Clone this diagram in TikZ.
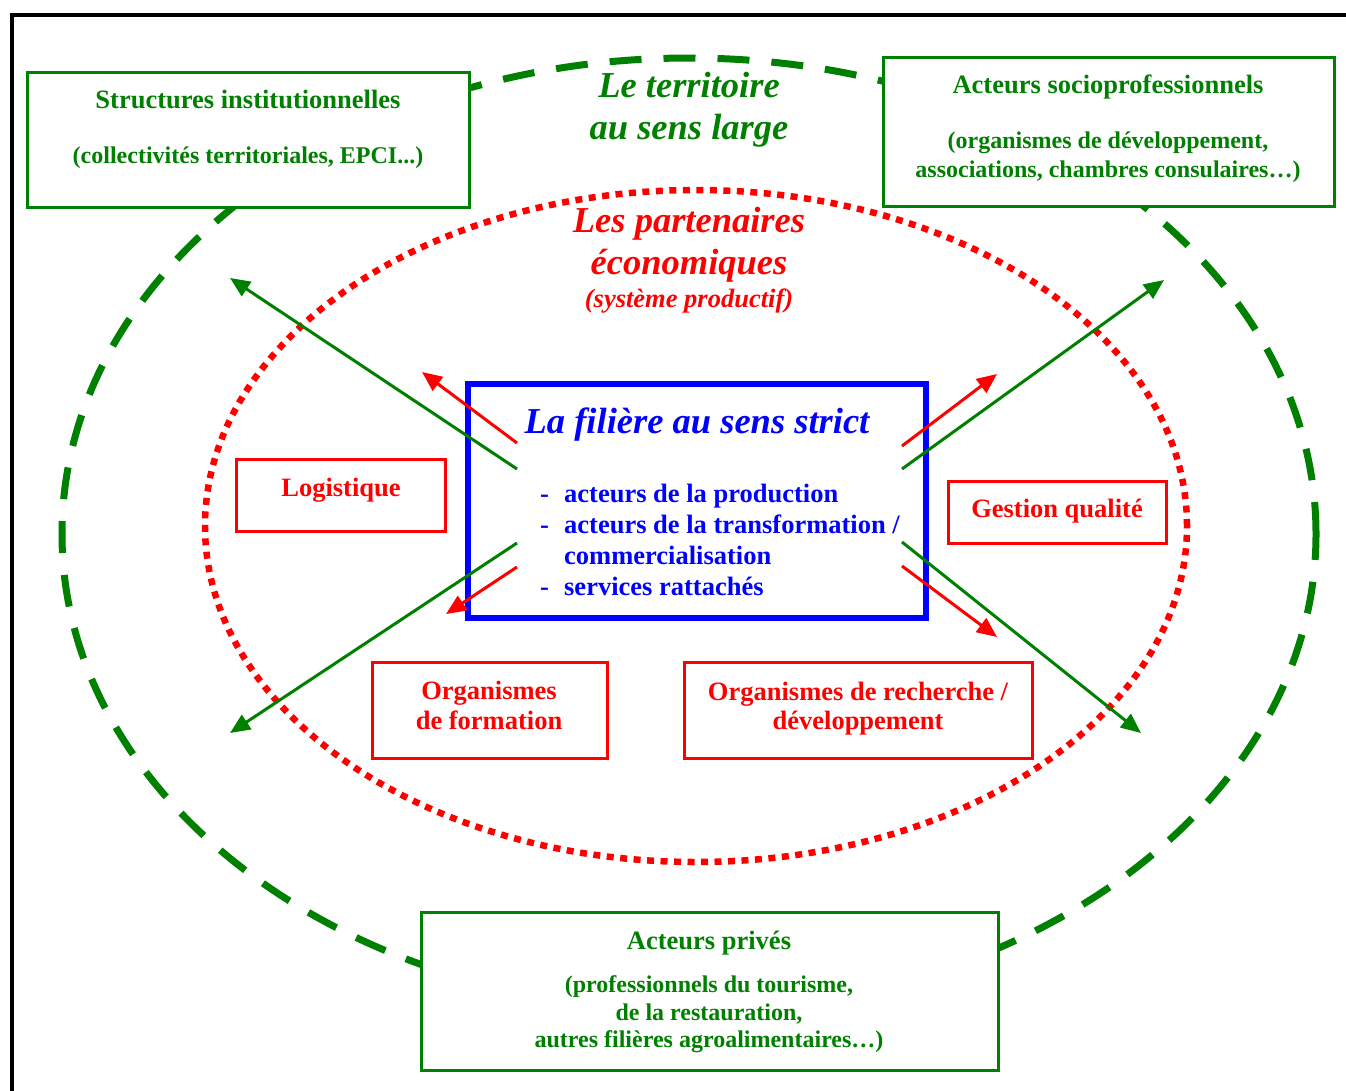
\documentclass[tikz,border=0pt]{standalone}
\usepackage{fontspec}
\setmainfont{Liberation Serif}
\usetikzlibrary{arrows.meta}

\definecolor{terrgreen}{RGB}{0,128,0}
\definecolor{partred}{RGB}{255,0,0}
\definecolor{filblue}{RGB}{0,0,255}

\begin{document}
\begin{tikzpicture}[x=1pt, y=-1pt, every node/.style={inner sep=0pt},
  txt/.style={font=\fontsize{26.5}{31}\selectfont\bfseries, anchor=base},
  subtxt/.style={font=\fontsize{24}{28}\selectfont\bfseries, anchor=base},
  bigtitle/.style={font=\fontsize{36.5}{42}\selectfont\bfseries\itshape, anchor=base},
  gbox/.style={draw=terrgreen, line width=3pt, fill=white},
  rbox/.style={draw=partred, line width=3pt, fill=white},
  garrow/.style={terrgreen, line width=3pt, -{Triangle[length=20pt,width=17pt]}},
  rarrow/.style={partred, line width=3pt, -{Triangle[length=20pt,width=17pt]}}]

  \useasboundingbox (0,0) rectangle (1346,1090);

  % Frame
  \draw[line width=4pt] (12,1094) -- (12,15) -- (1350,15);

  % Ellipses
  \draw[terrgreen, line width=7pt, dash pattern=on 32pt off 22pt]
    (689,534) ellipse [x radius=627pt, y radius=476pt]; % territory
  \draw[partred, line width=6.5pt, dash pattern=on 7pt off 6.5pt]
    (696,526) ellipse [x radius=491pt, y radius=336pt]; % partners

  % Central box
  \node[draw=filblue, line width=6pt, fill=white, minimum width=458pt,
    minimum height=234pt] (filiere) at (697,501) {};

  % Green boxes
  \node[gbox, minimum width=442pt, minimum height=135pt] (inst) at (248,139.5) {};
  \node[gbox, minimum width=451pt, minimum height=149pt] (socio) at (1108.5,131.5) {};
  \node[gbox, minimum width=577pt, minimum height=158pt] (prive) at (709.5,991) {};

  % Red boxes
  \node[rbox, minimum width=209pt, minimum height=72pt] (logi) at (340.5,495) {};
  \node[rbox, minimum width=218pt, minimum height=62pt] (qual) at (1057,512) {};
  \node[rbox, minimum width=235pt, minimum height=96pt] (form) at (489.5,710) {};
  \node[rbox, minimum width=348pt, minimum height=96pt] (rech) at (858,710) {};

  % Titles
  \node[bigtitle, text=terrgreen] (terr1) at (689,97) {Le territoire};
  \node[bigtitle, text=terrgreen] (terr2) at (689,139) {au sens large};
  \node[bigtitle, text=partred] (part1) at (689,232) {Les partenaires};
  \node[bigtitle, text=partred] (part2) at (689,274) {économiques};
  \node[txt, text=partred, font=\fontsize{26.5}{31}\selectfont\bfseries\itshape]
    (part3) at (689,307) {(système productif)};
  \node[bigtitle, text=filblue] (filT) at (697,433) {La filière au sens strict};

  % Texts of the boxes
  \node[txt, text=terrgreen] (instA) at (248,108) {Structures institutionnelles};
  \node[subtxt, text=terrgreen] (instB) at (248,163) {(collectivités territoriales, EPCI...)};
  \node[txt, text=terrgreen] (socioA) at (1108,93) {Acteurs socioprofessionnels};
  \node[subtxt, text=terrgreen] (socioB) at (1108,148) {(organismes de développement,};
  \node[subtxt, text=terrgreen] (socioC) at (1108,177) {associations, chambres consulaires…)};
  \node[txt, text=terrgreen] (priveA) at (709,949) {Acteurs privés};
  \node[subtxt, text=terrgreen] (priveB) at (709,992) {(professionnels du tourisme,};
  \node[subtxt, text=terrgreen] (priveC) at (709,1020) {de la restauration,};
  \node[subtxt, text=terrgreen] (priveD) at (709,1047) {autres filières agroalimentaires…)};

  \node[txt, text=partred] (logiT) at (341,496) {Logistique};
  \node[txt, text=partred] (qualT) at (1057,517) {Gestion qualité};
  \node[txt, text=partred] (formA) at (489,699) {Organismes};
  \node[txt, text=partred] (formB) at (489,729) {de formation};
  \node[txt, text=partred] (rechA) at (858,700) {Organismes de recherche /};
  \node[txt, text=partred] (rechB) at (858,729) {développement};

  \node[text=filblue, font=\fontsize{26.5}{31}\selectfont\bfseries, align=left,
    anchor=north west] (items) at (540,484)
    {\makebox[24pt][l]{-}acteurs de la production\\
     \makebox[24pt][l]{-}acteurs de la transformation /\\
     \makebox[24pt][l]{}commercialisation\\
     \makebox[24pt][l]{-}services rattachés};

  % Arrow ends
  \coordinate (gnwS) at (517,469); \coordinate (gnwE) at (230,278);
  \coordinate (gneS) at (902,469); \coordinate (gneE) at (1164,280);
  \coordinate (gswS) at (517,543); \coordinate (gswE) at (230,733);
  \coordinate (gseS) at (902,542); \coordinate (gseE) at (1141,733);
  \coordinate (rnwS) at (517,443); \coordinate (rnwE) at (422,372);
  \coordinate (rneS) at (902,446); \coordinate (rneE) at (997,374);
  \coordinate (rswS) at (517,567); \coordinate (rswE) at (446,614);
  \coordinate (rseS) at (902,566); \coordinate (rseE) at (997,637);

  % Arrows
  \draw[garrow] (gnwS) -- (gnwE);
  \draw[garrow] (gneS) -- (gneE);
  \draw[garrow] (gswS) -- (gswE);
  \draw[garrow] (gseS) -- (gseE);
  \draw[rarrow] (rnwS) -- (rnwE);
  \draw[rarrow] (rneS) -- (rneE);
  \draw[rarrow] (rswS) -- (rswE);
  \draw[rarrow] (rseS) -- (rseE);
\end{tikzpicture}
\end{document}
